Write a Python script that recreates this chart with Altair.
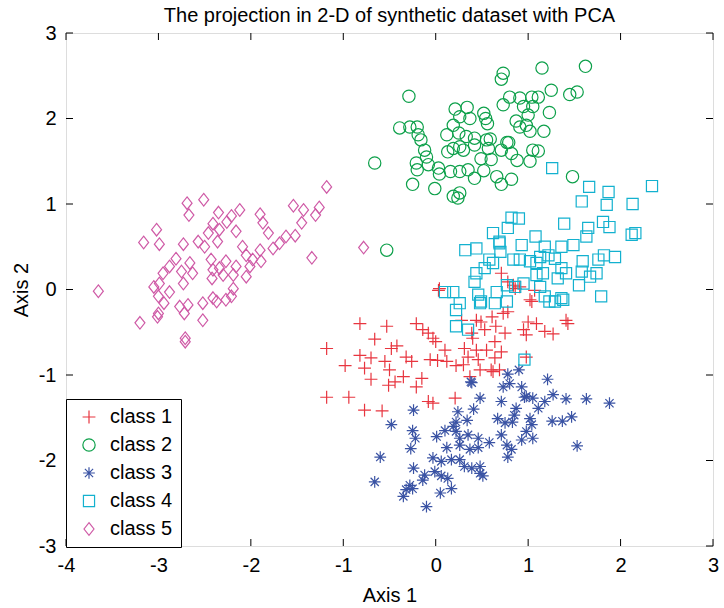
import altair as alt
import pandas as pd

classes = ["class 1", "class 2", "class 3", "class 4", "class 5"]
colors = ["#e8353f", "#0da04a", "#3a53a4", "#13b1cf", "#cf5aa6"]

c1 = [(-1.18,-0.69),(-0.82,-0.40),(-0.53,-0.43),(-0.66,-0.58),(-0.98,-0.89),(-0.82,-0.77),(-0.70,-0.80),(-0.77,-0.92),(-0.70,-1.05),(-0.55,-0.84),(-0.50,-0.94),(-0.48,-0.69),(-0.42,-0.66),(-0.51,-1.12),(-0.44,-1.08),(-0.35,-1.02),(-0.32,-0.79),(-0.26,-0.84),(-0.15,-1.04),(-0.21,-1.14),(-1.18,-1.26),(-0.94,-1.26),(-0.77,-1.41),(-0.58,-1.42),(-0.08,-1.31),(-0.03,-1.33),(0.21,-1.27),(-0.21,-0.40),(-0.14,-0.47),(-0.08,-0.51),(-0.03,-0.57),(0.00,-0.61),(-0.06,-0.82),(0.02,-0.83),(0.10,-0.71),(0.12,-0.84),(0.22,-0.89),(0.28,-0.36),(0.31,-0.69),(0.35,-0.79),(0.39,-0.51),(0.40,-0.57),(0.44,-0.71),(0.46,-0.82),(0.49,-0.38),(0.53,-0.47),(0.48,-0.94),(0.55,-0.71),(0.61,-0.32),(0.65,-0.43),(0.64,-0.61),(0.71,-0.73),(0.64,-0.80),(0.60,-0.94),(0.69,-0.94),(0.73,-0.28),(0.78,-0.26),(0.75,-0.51),(0.98,-0.79),(0.95,-0.47),(0.98,-0.53),(1.00,-0.38),(1.09,-0.40),(1.02,-0.12),(1.18,-0.49),(1.27,-0.52),(1.41,-0.36),(1.43,-0.40),(0.84,0.05),(0.91,0.03),(0.03,-0.01),(0.30,-0.88),(0.44,-0.36),(0.04,0.01),(0.71,0.19),(0.78,0.09),(0.86,0.01),(1.07,-0.01),(1.04,-0.14),(0.37,-1.02),(0.62,-0.96)]

c2 = [(-0.29,2.26),(0.73,2.53),(0.71,2.46),(1.15,2.59),(1.62,2.61),(1.25,2.33),(1.45,2.28),(1.53,2.31),(0.80,2.25),(0.91,2.24),(1.04,2.25),(1.11,2.25),(0.73,2.16),(0.95,2.14),(1.05,2.14),(1.23,2.07),(0.21,2.11),(0.34,2.13),(0.52,2.06),(0.54,2.00),(0.56,1.94),(0.37,2.00),(0.26,2.02),(0.19,1.92),(1.00,2.04),(0.87,1.97),(0.91,1.90),(0.98,1.92),(1.02,1.85),(1.17,1.85),(-0.39,1.89),(-0.28,1.90),(-0.20,1.90),(-0.19,1.81),(-0.16,1.75),(0.12,1.81),(0.25,1.83),(0.33,1.79),(0.42,1.77),(0.55,1.75),(0.59,1.76),(-0.12,1.63),(-0.10,1.55),(0.13,1.61),(0.19,1.65),(0.26,1.67),(0.30,1.63),(0.42,1.69),(0.57,1.65),(0.71,1.63),(0.77,1.72),(0.79,1.72),(0.82,1.59),(0.88,1.51),(1.02,1.50),(1.05,1.63),(1.11,1.62),(0.60,1.52),(0.49,1.53),(-0.21,1.48),(-0.20,1.40),(-0.08,1.46),(0.03,1.42),(0.04,1.35),(0.16,1.38),(0.26,1.38),(0.35,1.40),(0.42,1.30),(0.52,1.39),(-0.66,1.48),(-0.25,1.23),(-0.01,1.18),(0.19,1.09),(0.24,1.07),(0.26,1.13),(0.66,1.32),(0.71,1.23),(0.82,1.29),(1.48,1.32),(-0.53,0.46)]

c3 = [(0.39,-1.09),(0.78,-0.99),(0.90,-0.94),(1.21,-1.05),(0.73,-1.14),(0.80,-1.10),(0.93,-1.14),(0.48,-1.27),(0.71,-1.31),(0.96,-1.26),(1.05,-1.27),(1.18,-1.31),(1.27,-1.23),(1.41,-1.28),(1.63,-1.28),(1.88,-1.33),(1.11,-1.39),(0.87,-1.39),(0.85,-1.47),(1.02,-1.51),(1.26,-1.54),(1.37,-1.54),(1.47,-1.49),(-0.24,-1.41),(-0.48,-1.58),(0.24,-1.43),(0.41,-1.40),(0.22,-1.55),(0.34,-1.53),(0.67,-1.51),(0.75,-1.56),(0.83,-1.55),(0.98,-1.66),(1.05,-1.74),(0.93,-1.76),(0.71,-1.70),(-0.25,-1.65),(-0.22,-1.74),(0.01,-1.72),(0.10,-1.65),(0.22,-1.66),(0.26,-1.74),(0.35,-1.70),(0.46,-1.74),(0.58,-1.79),(-0.27,-1.86),(0.12,-1.85),(0.26,-1.82),(0.37,-1.87),(0.46,-1.85),(0.77,-1.82),(0.82,-1.87),(0.78,-1.96),(1.53,-1.83),(-0.60,-1.96),(-0.03,-1.97),(0.06,-2.01),(0.17,-1.99),(0.26,-1.99),(0.31,-2.07),(0.39,-2.09),(0.48,-2.07),(0.48,-2.15),(0.51,-2.18),(-0.24,-2.09),(-0.12,-2.17),(-0.01,-2.13),(0.06,-2.18),(0.13,-2.21),(0.17,-2.33),(0.05,-2.38),(-0.14,-2.23),(-0.66,-2.25),(-0.28,-2.29),(-0.32,-2.34),(-0.35,-2.42),(-0.25,-2.33),(-0.10,-2.54),(0.19,-1.60),(1.04,-1.58),(0.38,-1.08),(0.98,-1.25)]

c4 = [(1.26,1.42),(1.66,1.20),(1.58,1.03),(1.39,0.77),(0.82,0.84),(0.90,0.83),(0.78,0.72),(0.62,0.66),(1.08,0.62),(1.65,0.72),(1.63,0.62),(0.32,0.46),(0.44,0.48),(0.69,0.54),(1.18,0.50),(1.36,0.50),(1.49,0.52),(2.34,1.21),(1.87,1.14),(1.85,0.99),(2.13,1.00),(1.88,0.73),(2.12,0.64),(2.16,0.66),(1.81,0.79),(0.93,0.52),(0.69,0.56),(0.70,0.44),(0.58,0.35),(0.53,0.25),(0.62,0.31),(0.44,0.19),(0.42,0.09),(0.84,0.35),(0.91,0.35),(1.02,0.33),(1.09,0.31),(1.16,0.19),(1.13,0.38),(1.22,0.40),(1.29,0.36),(1.36,0.25),(1.32,0.13),(1.41,0.19),(1.59,0.33),(1.58,0.21),(1.67,0.15),(1.74,0.19),(1.76,0.35),(1.82,0.40),(1.94,0.38),(1.55,0.05),(1.79,-0.08),(0.95,0.07),(0.86,0.03),(0.77,0.05),(0.66,-0.03),(0.46,-0.06),(0.49,-0.14),(0.26,-0.16),(0.19,-0.03),(0.10,-0.03),(1.13,0.03),(1.18,-0.08),(1.36,-0.10),(1.29,-0.14),(0.77,-0.14),(1.09,0.17),(0.22,-0.43),(0.22,-0.24),(0.96,-0.82),(0.48,-0.16),(0.64,-0.16),(1.23,-0.14),(1.38,-0.12),(0.35,-0.47)]

c5 = [(-1.18,1.20),(-2.51,1.05),(-2.69,1.01),(-2.67,0.87),(-2.12,0.93),(-2.35,0.90),(-1.54,0.98),(-1.43,0.93),(-1.26,0.96),(-1.30,0.87),(-1.90,0.88),(-1.87,0.78),(-1.45,0.78),(-2.21,0.86),(-2.41,0.77),(-2.26,0.79),(-3.02,0.70),(-3.16,0.55),(-2.99,0.53),(-1.81,0.66),(-2.16,0.68),(-2.34,0.70),(-2.46,0.66),(-1.52,0.63),(-1.62,0.62),(-1.69,0.54),(-1.76,0.48),(-2.73,0.53),(-2.57,0.56),(-2.36,0.56),(-2.50,0.50),(-2.09,0.50),(-1.90,0.46),(-0.78,0.49),(-1.34,0.37),(-2.81,0.36),(-2.66,0.31),(-2.43,0.35),(-2.27,0.33),(-2.05,0.40),(-1.98,0.35),(-1.89,0.33),(-2.01,0.27),(-2.88,0.27),(-2.95,0.19),(-2.75,0.21),(-2.63,0.19),(-2.41,0.23),(-2.34,0.25),(-2.16,0.27),(-3.65,-0.02),(-3.05,0.03),(-2.99,0.07),(-2.88,-0.03),(-2.73,0.07),(-2.42,0.13),(-2.30,0.17),(-2.19,0.17),(-2.05,0.15),(-2.19,0.01),(-3.00,-0.08),(-2.94,-0.16),(-2.77,-0.20),(-2.68,-0.18),(-2.52,-0.16),(-2.41,-0.10),(-2.37,-0.14),(-2.27,-0.12),(-2.21,-0.08),(-3.00,-0.28),(-3.01,-0.32),(-2.72,-0.28),(-3.20,-0.39),(-2.52,-0.36),(-2.71,-0.57),(-2.71,-0.61)]

x_ticks = [-4, -3, -2, -1, 0, 1, 2, 3]
y_ticks = [-3, -2, -1, 0, 1, 2, 3]

plus_path = "M-1,0L1,0M0,-1L0,1"
star_path = "M-1,0L1,0M0,-1L0,1M-0.7,-0.7L0.7,0.7M-0.7,0.7L0.7,-0.7"
diamond_path = "M0,-1.2L0.95,0L0,1.2L-0.95,0Z"
shapes = [plus_path, "circle", star_path, "square", diamond_path]
sizes = [165, 110, 140, 150, 175]

rows = []
for name, pts in zip(classes, [c1, c2, c3, c4, c5]):
    for px, py in pts:
        rows.append({"cls": name, "x": px, "y": py})
df = pd.DataFrame(rows)

W, H = 647, 513
FONT = "Liberation Sans"
FS = 20
xs = alt.Scale(domain=[-4, 3], nice=False, zero=False)
ys = alt.Scale(domain=[-3, 3], nice=False, zero=False)
lab = "datum.value < 0 ? '-' + abs(datum.value) : '' + datum.value"

x_axis = alt.Axis(values=x_ticks, title="Axis 1", ticks=False, grid=False, domain=False,
                  labelFont=FONT, labelFontSize=FS, labelColor="black", labelPadding=9, labelExpr=lab,
                  titleFont=FONT, titleFontSize=FS, titleFontWeight="normal", titleColor="black", titlePadding=10,
                  labelFlush=False)
y_axis = alt.Axis(values=y_ticks, title="Axis 2", ticks=False, grid=False, domain=False,
                  labelFont=FONT, labelFontSize=FS, labelColor="black", labelPadding=10, labelExpr=lab,
                  titleFont=FONT, titleFontSize=FS, titleFontWeight="normal", titleColor="black", titlePadding=7,
                  labelFlush=False)

leg = alt.Legend(
    title=None, orient="none", legendX=0, legendY=366,
    strokeColor="black", fillColor="white", padding=8,
    labelFont=FONT, labelFontSize=FS, labelColor="black",
    symbolOffset=5, labelOffset=11, rowPadding=8,
    symbolSize=140, symbolStrokeWidth=1.2,
    labelExpr="datum.label + '     '",
)

points = alt.Chart(df).mark_point(filled=False, strokeWidth=1.2, opacity=1).encode(
    x=alt.X("x:Q", scale=xs, axis=x_axis),
    y=alt.Y("y:Q", scale=ys, axis=y_axis),
    color=alt.Color("cls:N", scale=alt.Scale(domain=classes, range=colors), legend=leg),
    shape=alt.Shape("cls:N", scale=alt.Scale(domain=classes, range=shapes), legend=leg),
    size=alt.Size("cls:N", scale=alt.Scale(domain=classes, range=sizes), legend=None),
)

xt = pd.DataFrame({"x": x_ticks})
yt = pd.DataFrame({"y": y_ticks})
TL = 7
bot = alt.Chart(xt).mark_rule(color="black", strokeWidth=1).encode(
    x=alt.X("x:Q", scale=xs, axis=x_axis), y=alt.value(H), y2=alt.value(H - TL))
top = alt.Chart(xt).mark_rule(color="black", strokeWidth=1).encode(
    x=alt.X("x:Q", scale=xs, axis=x_axis), y=alt.value(0), y2=alt.value(TL))
left = alt.Chart(yt).mark_rule(color="black", strokeWidth=1).encode(
    y=alt.Y("y:Q", scale=ys, axis=y_axis), x=alt.value(0), x2=alt.value(TL))
right = alt.Chart(yt).mark_rule(color="black", strokeWidth=1).encode(
    y=alt.Y("y:Q", scale=ys, axis=y_axis), x=alt.value(W), x2=alt.value(W - TL))

chart = alt.layer(points, bot, top, left, right).properties(
    width=W, height=H,
    title=alt.TitleParams("The projection in 2-D of synthetic dataset with PCA", font=FONT, fontSize=FS,
                          fontWeight="normal", color="black", anchor="middle", offset=-3),
    padding={"left": 66, "top": 33, "right": 11, "bottom": 62},
    autosize=alt.AutoSizeParams(type="none"),
).configure_view(stroke="black", strokeWidth=1.2).configure(background="white")

chart.save("out.html", embed_options={"renderer": "svg", "actions": False})
